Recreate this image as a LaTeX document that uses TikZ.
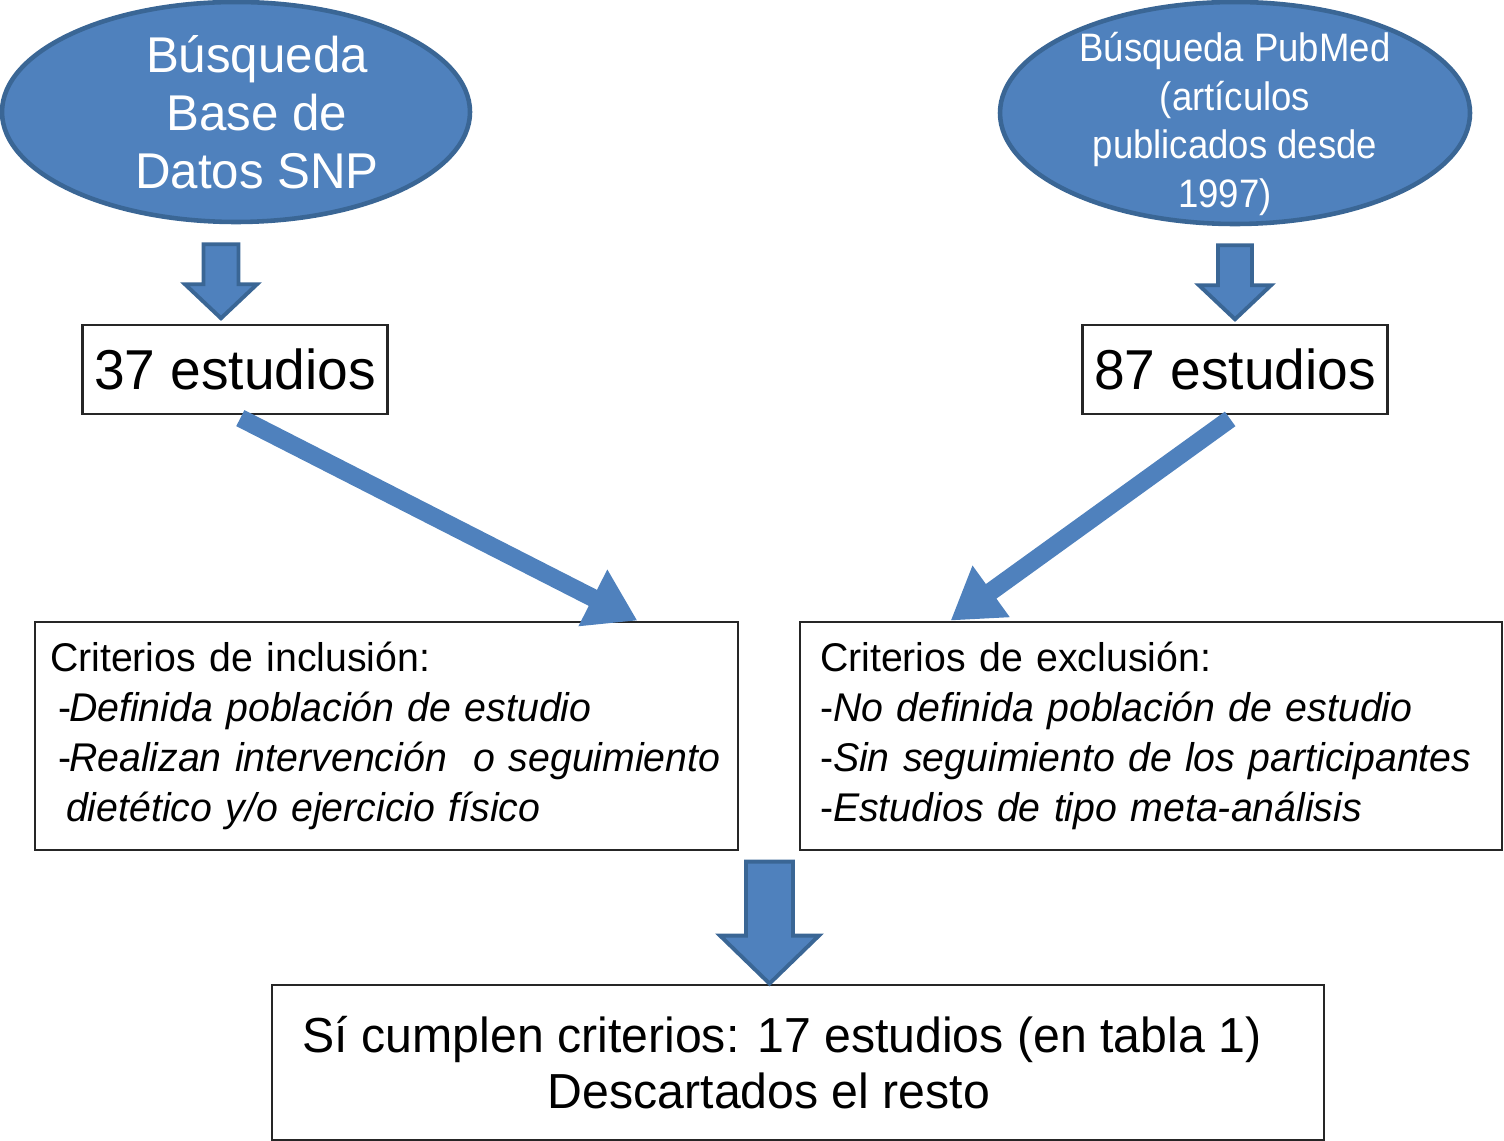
\documentclass[tikz,border=0pt]{standalone}
\usepackage{fontspec}
\setmainfont[FakeStretch=0.98]{Liberation Sans}
\newfontfamily\narrowsans[FakeStretch=0.92]{Liberation Sans}
\usepackage[HTML]{xcolor}
\usepackage{tikz}
\usetikzlibrary{positioning, arrows.meta, shapes.geometric, calc}
\definecolor{boxblue}{HTML}{4F81BD}
\definecolor{edgeblue}{HTML}{3A6695}

% fat down arrow: top point, shaft half width, shaft length, head half width, total length
\newcommand{\blockdown}[5]{%
  \draw[blockarr, shift={#1}] (-#2,0) -- (#2,0) -- (#2,-#3) -- (#4,-#3) -- (0,-#5) -- (-#4,-#3) -- (-#2,-#3) -- cycle;}

\begin{document}
\begin{tikzpicture}[
  src/.style={ellipse, fill=boxblue, draw=edgeblue, line width=1.3pt, inner sep=0pt},
  srctext/.style={text=white, align=center},
  countbox/.style={rectangle, draw=black!85, line width=0.8pt, fill=white, minimum width=3.02cm, minimum height=0.89cm, font=\fontsize{16}{19}\selectfont},
  critbox/.style={rectangle, draw=black!85, line width=0.8pt, fill=white, minimum height=2.28cm, align=left, font=\fontsize{11.4}{14.2}\selectfont},
  blockarr/.style={fill=boxblue, draw=edgeblue, line width=1.1pt, line join=miter},
  thinarr/.style={draw=boxblue, line width=0.18cm, shorten <=0.06cm, -{Triangle[width=0.6cm,length=0.5cm]}}
]
\useasboundingbox (0,0) rectangle (15.04,-11.41);

% the two searches
\node[src, minimum width=4.68cm, minimum height=2.20cm] (db) at (2.36,-1.12) {};
\node[srctext, font=\fontsize{14.3}{16.5}\selectfont] (dbtext) at ([xshift=0.21cm]db.center) {Búsqueda\\Base de\\Datos SNP};
\node[src, minimum width=4.70cm, minimum height=2.22cm] (pm) at (12.35,-1.13) {};
\node[srctext, font=\narrowsans\fontsize{11.3}{13.8}\selectfont] (pmtext) at ([yshift=-0.11cm]pm.center) {Búsqueda PubMed\\(artículos\\publicados desde\\1997)\hspace*{0.2cm}};

% counts
\node[countbox] (n37) at (2.35,-3.695) {37 estudios};
\node[countbox] (n87) at (12.35,-3.695) {87 estudios};

% criteria
\node[critbox, text width=6.73cm, inner xsep=0.15cm] (inc) at (3.865,-7.36) {Criterios de inclusión:\\
\hspace*{0.08cm}-\kern-0.05em\textit{Definida población de estudio}\\
\mbox{\hspace*{0.08cm}-\kern-0.05em\textit{Realizan intervención\ \ o seguimiento}}\\
\hspace*{0.16cm}\textit{dietético y/o ejercicio físico}};
\node[critbox, text width=6.62cm, inner xsep=0.2cm] (exc) at (11.51,-7.36) {Criterios de exclusión:\\
-\textit{No definida población de estudio}\\
\mbox{-\textit{Sin seguimiento de los participantes}}\\
-\textit{Estudios de tipo meta-análisis}};

% result
\node[rectangle, draw=black!85, line width=0.8pt, fill=white, minimum width=10.52cm, minimum height=1.55cm, align=center, font=\fontsize{14}{15.9}\selectfont] (res) at (7.98,-10.625) {Sí cumplen criterios: 17 estudios (en tabla 1)\hspace*{0.32cm}\\Descartados el resto\hspace*{0.58cm}};

% arrows
\blockdown{([xshift=-0.15cm,yshift=-0.2cm]db.south)}{0.175}{0.40}{0.36}{0.74}
\blockdown{([yshift=-0.19cm]pm.south)}{0.17}{0.40}{0.36}{0.74}
\blockdown{([xshift=-0.285cm,yshift=1.22cm]res.north)}{0.235}{0.74}{0.495}{1.22}

\draw[thinarr] (n37.south) -- ([xshift=-1.02cm]inc.north east);
\draw[thinarr] (n87.south) -- ([xshift=1.52cm]exc.north west);
\end{tikzpicture}
\end{document}
